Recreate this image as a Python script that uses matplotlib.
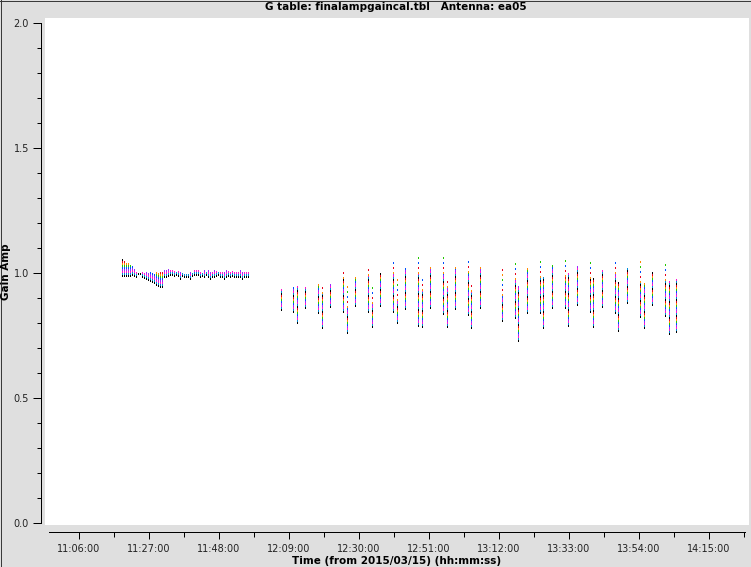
import matplotlib
matplotlib.use("Agg")
import matplotlib.pyplot as plt
from matplotlib.lines import Line2D
from matplotlib.ticker import FixedLocator, FuncFormatter, MultipleLocator

plt.rcParams['lines.scale_dashes'] = False
plt.rcParams['font.family'] = ['DejaVu Sans']

# ---------------- data ----------------
title = "G table: finalampgaincal.tbl   Antenna: ea05"
xlabel = "Time (from 2015/03/15) (hh:mm:ss)"
ylabel = "Gain Amp"
x_tick_labels = ["11:06:00", "11:27:00", "11:48:00", "12:09:00", "12:30:00",
                 "12:51:00", "13:12:00", "13:33:00", "13:54:00", "14:15:00"]
y_ticks = [0.0, 0.5, 1.0, 1.5, 2.0]

# first block: short solution intervals (time, upper, lower)
g1_times = ["11:18:54", "11:19:30", "11:20:06", "11:20:42", "11:21:18", "11:21:54",
            "11:22:30", "11:23:06", "11:23:42", "11:24:18", "11:24:54", "11:25:30",
            "11:26:06", "11:26:42", "11:27:18", "11:27:54", "11:28:30", "11:29:06",
            "11:29:42", "11:30:18", "11:30:54", "11:31:30", "11:32:06", "11:32:42",
            "11:33:18", "11:33:54", "11:34:30", "11:35:06", "11:35:42", "11:36:18",
            "11:36:54", "11:37:30", "11:38:06", "11:38:42", "11:39:18", "11:39:54",
            "11:40:30", "11:41:06", "11:41:42", "11:42:18", "11:42:54", "11:43:30",
            "11:44:06", "11:44:42", "11:45:18", "11:45:54", "11:46:30", "11:47:06",
            "11:47:42", "11:48:18", "11:48:54", "11:49:30", "11:50:06", "11:50:42",
            "11:51:18", "11:51:54", "11:52:30", "11:53:06", "11:53:42", "11:54:18",
            "11:54:54", "11:55:30", "11:56:06", "11:56:42"]
g1_hi = [1.059, 1.052, 1.044, 1.039, 1.035, 1.030, 1.019, 1.008, 1.005, 1.005,
         1.004, 1.004, 1.004, 1.004, 1.004, 1.004, 1.002, 1.004, 1.004, 1.004,
         1.006, 1.015, 1.017, 1.015, 1.017, 1.015, 1.009, 1.009, 1.007, 1.004,
         1.001, 1.001, 1.001, 1.001, 1.004, 1.001, 1.012, 1.015, 1.012, 1.004,
         1.004, 1.015, 1.009, 1.012, 1.004, 1.007, 1.012, 1.009, 1.009, 1.009,
         1.004, 1.007, 1.012, 1.009, 1.007, 1.007, 1.007, 1.007, 1.007, 1.015,
         1.007, 1.007, 1.007, 1.009]
g1_lo = [0.989, 0.989, 0.988, 0.988, 0.988, 0.993, 0.989, 0.985, 0.997, 0.995,
         0.985, 0.979, 0.975, 0.972, 0.969, 0.964, 0.961, 0.953, 0.948, 0.945,
         0.943, 0.985, 0.983, 0.988, 0.991, 0.991, 0.988, 0.991, 0.988, 0.977,
         0.988, 0.985, 0.983, 0.985, 0.977, 0.988, 0.991, 0.993, 0.991, 0.983,
         0.988, 0.983, 0.993, 0.985, 0.977, 0.983, 0.985, 0.988, 0.991, 0.985,
         0.985, 0.977, 0.983, 0.988, 0.985, 0.988, 0.985, 0.985, 0.983, 0.983,
         0.977, 0.983, 0.983, 0.983]

# later scans: time, highest point, top of dense part, bottom
g2_times = ["12:06:41", "12:10:17", "12:11:29", "12:13:53", "12:17:47", "12:18:59",
            "12:21:23", "12:25:17", "12:26:29", "12:28:53", "12:32:47", "12:33:59",
            "12:36:23", "12:40:17", "12:41:29", "12:43:53", "12:47:47", "12:48:59",
            "12:51:23", "12:55:17", "12:56:29", "12:58:53", "13:02:47", "13:03:41",
            "13:06:23",
            "13:12:59", "13:16:53", "13:17:47", "13:20:29", "13:24:23", "13:25:17",
            "13:27:59", "13:31:53", "13:32:47", "13:35:29", "13:39:23", "13:40:17",
            "13:42:59", "13:46:53", "13:47:47", "13:50:29", "13:54:23", "13:55:35",
            "13:57:59", "14:01:53", "14:03:05", "14:05:11"]
g2_top = [0.936, 0.948, 0.953, 0.943, 0.972, 0.943, 0.959, 1.012, 0.964, 0.988,
          1.029, 0.959, 1.004, 1.044, 0.985, 1.025, 1.068, 0.979, 1.036, 1.065,
          0.983, 1.041, 1.055, 0.970, 1.040,
          1.019, 1.056, 0.952, 1.025, 1.065, 0.985, 1.032, 1.059, 0.999, 1.028,
          1.055, 0.979, 1.015, 1.052, 0.965, 1.019, 1.048, 0.959, 1.005, 1.043,
          0.972, 0.975]
g2_hi = [0.936, 0.948, 0.953, 0.943, 0.952, 0.919, 0.959, 0.979, 0.865, 0.988,
         0.992, 0.879, 1.004, 0.999, 0.892, 1.025, 0.999, 0.932, 1.020, 0.999,
         0.945, 1.020, 1.005, 0.930, 1.020,
         0.912, 0.975, 0.952, 1.025, 0.985, 0.985, 1.032, 0.988, 0.999, 1.028,
         0.979, 0.979, 1.015, 0.999, 0.965, 1.019, 0.965, 0.959, 1.005, 0.972,
         0.972, 0.975]
g2_lo = [0.852, 0.843, 0.799, 0.859, 0.839, 0.780, 0.865, 0.845, 0.761, 0.869,
         0.843, 0.785, 0.869, 0.845, 0.799, 0.856, 0.790, 0.785, 0.861, 0.835,
         0.783, 0.856, 0.832, 0.780, 0.860,
         0.809, 0.819, 0.729, 0.839, 0.839, 0.779, 0.859, 0.859, 0.789, 0.872,
         0.845, 0.783, 0.863, 0.839, 0.769, 0.879, 0.825, 0.779, 0.872, 0.828,
         0.756, 0.765]

point_colors = ['#000000', '#e8001c', '#ff8800', '#22c800', '#0050ff',
                '#9a2cff', '#ff10d0', '#008cd8']
sparse_colors = ['#ff8800', '#22c800', '#0050ff', '#e8001c']

# ---------------- figure ----------------
W, H, DPI = 751, 567, 100
PX = 72.0 / DPI


def tmin(s):
    h, m, sec = (int(v) for v in s.split(':'))
    return h * 60 + m + sec / 60.0


def px2t(px):
    return 666.0 + (px - 79.0) * 0.3


fig = plt.figure(figsize=(W / DPI, H / DPI), dpi=DPI, facecolor='#dfdfdf')
ax = fig.add_axes([45 / W, 1 - 525 / H, (749 - 45) / W, (525 - 18) / H])
ax.set_facecolor('white')
ax.set_xlim(px2t(45), px2t(749))
ax.set_ylim((523 - 525) / 250.0, (523 - 18) / 250.0)


def stripes(times, lo, hi, colors, on_px, period_px):
    n = len(colors)
    for i, c in enumerate(colors):
        ls = (i * period_px / n * PX, (on_px * PX, (period_px - on_px) * PX))
        ax.vlines(times, lo, hi, colors=c, linewidth=1.2 * PX,
                  linestyles=[ls], antialiased=False, snap=True, zorder=3)


t1 = [tmin(s) for s in g1_times]
stripes(t1, g1_lo, g1_hi, point_colors, 2, 2 * len(point_colors))

t2 = [tmin(s) for s in g2_times]
stripes(t2, g2_lo, g2_hi, point_colors, 2, 2 * len(point_colors))
sparse_t = [t for t, a, b in zip(t2, g2_hi, g2_top) if b > a]
sparse_lo = [a for a, b in zip(g2_hi, g2_top) if b > a]
sparse_hi = [b for a, b in zip(g2_hi, g2_top) if b > a]
stripes(sparse_t, sparse_lo, sparse_hi, sparse_colors, 1.5, 20)

# spines
for s in ('top', 'right'):
    ax.spines[s].set_visible(False)
ax.spines['left'].set_position(('outward', 3))
ax.spines['left'].set_bounds(0.0, 2.0)
ax.spines['bottom'].set_position(('outward', 5))
ax.spines['bottom'].set_bounds(px2t(49), px2t(745))
for s in ('left', 'bottom'):
    ax.spines[s].set_linewidth(1.0 * PX)
    ax.spines[s].set_color('black')

xt = [tmin(s) for s in x_tick_labels]
ax.xaxis.set_major_locator(FixedLocator(xt))
ax.xaxis.set_minor_locator(FixedLocator([v + 10.5 for v in xt]))
ax.set_xticklabels(x_tick_labels)
ax.yaxis.set_major_locator(FixedLocator(y_ticks))
ax.yaxis.set_minor_locator(MultipleLocator(0.1))
ax.yaxis.set_major_formatter(FuncFormatter(lambda v, p: f"{v:.1f}"))

ax.tick_params(axis='both', which='both', direction='out', color='black',
               width=1.0 * PX, labelsize=7, labelcolor='#222222')
ax.tick_params(axis='y', which='major', length=8 * PX, pad=4 * PX)
ax.tick_params(axis='y', which='minor', length=4 * PX)
ax.tick_params(axis='x', which='major', length=7 * PX, pad=5 * PX)
ax.tick_params(axis='x', which='minor', length=5 * PX)

fig.text(395.5 / W, 1 - 7 / H, title, ha='center', va='center',
         fontsize=7.5, fontweight='bold')
fig.text(397 / W, 1 - 561 / H, xlabel, ha='center', va='center',
         fontsize=7.5, fontweight='bold')
fig.text(6 / W, 1 - 272 / H, ylabel, ha='center', va='center',
         fontsize=7.5, fontweight='bold', rotation=90)

# figure border (top and left dark edge)
fig.add_artist(Line2D([0, 1], [1 - 0.5 / H, 1 - 0.5 / H], transform=fig.transFigure,
                      color='#3a3a3a', linewidth=1.0 * PX))
fig.add_artist(Line2D([0.5 / W, 0.5 / W], [0, 1], transform=fig.transFigure,
                      color='#3a3a3a', linewidth=1.0 * PX))

fig.savefig('out.png', dpi=DPI, facecolor=fig.get_facecolor())
